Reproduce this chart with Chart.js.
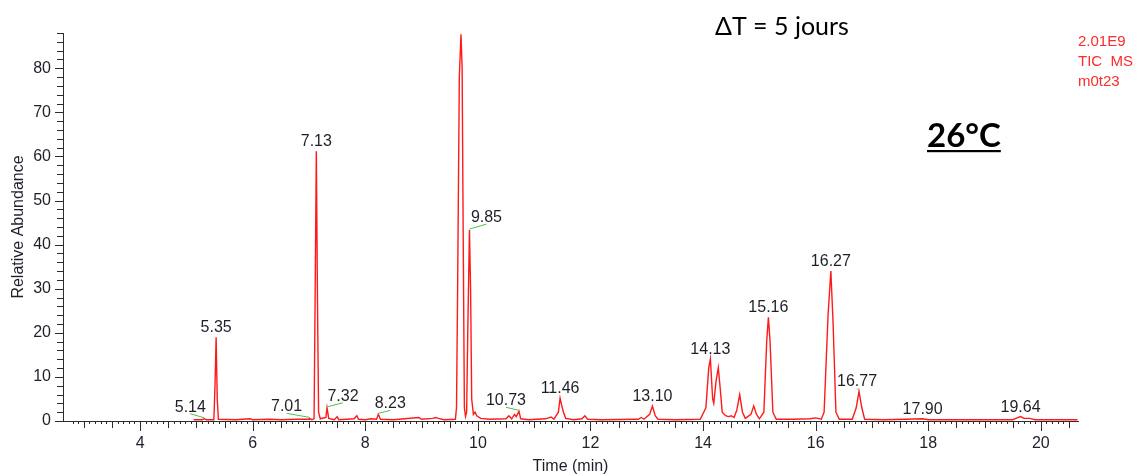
<!DOCTYPE html>
<html>
<head>
<meta charset="utf-8">
<script src="https://cdn.jsdelivr.net/npm/chart.js@4.4.1/dist/chart.umd.min.js"></script>
<style>
  html, body { margin: 0; padding: 0; background: #fff; }
  #wrap { position: relative; width: 1143px; height: 476px; }
  canvas { display: block; }
</style>
</head>
<body>
<div id="wrap"><canvas id="c" width="1143" height="476"></canvas></div>
<script>
// ---- Data (time in min, relative abundance %) ----
const times = [
  4.95, 5.10, 5.14, 5.18, 5.31, 5.33, 5.35, 5.37, 5.39, 5.70, 5.95, 6.00, 6.30, 6.50, 6.80, 7.00,
  7.01, 7.05, 7.09, 7.11, 7.13, 7.15, 7.17, 7.20, 7.30, 7.32, 7.35, 7.45, 7.50, 7.53, 7.80, 7.85,
  7.88, 8.00, 8.10, 8.20, 8.23, 8.27, 8.50, 8.70, 8.95, 9.00, 9.20, 9.25, 9.30, 9.40, 9.60, 9.62,
  9.64, 9.67, 9.70, 9.72, 9.74, 9.76, 9.78, 9.80, 9.82, 9.85, 9.87, 9.89, 9.92, 9.95, 9.98, 10.05,
  10.20, 10.50, 10.55, 10.60, 10.65, 10.68, 10.73, 10.76, 10.90, 11.20, 11.30, 11.35, 11.43, 11.46, 11.49, 11.52,
  11.56, 11.70, 11.85, 11.90, 11.95, 12.20, 12.85, 12.90, 12.95, 13.05, 13.10, 13.15, 13.20, 13.50, 13.95, 14.05,
  14.10, 14.13, 14.17, 14.19, 14.23, 14.27, 14.30, 14.34, 14.40, 14.45, 14.50, 14.55, 14.60, 14.65, 14.70, 14.75,
  14.85, 14.90, 14.95, 15.00, 15.08, 15.13, 15.16, 15.19, 15.24, 15.30, 15.60, 15.90, 16.00, 16.10, 16.15, 16.22,
  16.27, 16.31, 16.36, 16.42, 16.65, 16.72, 16.77, 16.82, 16.87, 17.20, 17.60, 17.90, 18.00, 18.60, 19.50, 19.60,
  19.64, 19.70, 19.80, 19.90, 20.65
];
const abundance = [
  0.3, 0.3, 0.5, 0.3, 0.3, 8, 19.0, 5, 0.4, 0.3, 0.5, 0.3, 0.4, 0.3, 0.4, 0.4,
  0.6, 0.3, 0.5, 30, 61.2, 28, 2, 0.5, 0.8, 3.0, 0.6, 0.3, 1.0, 0.3, 0.5, 1.2,
  0.4, 0.3, 0.5, 0.4, 1.5, 0.4, 0.3, 0.5, 0.8, 0.4, 0.6, 0.8, 0.6, 0.3, 0.4, 3,
  30, 78, 87.7, 80, 40, 3, 1.0, 2, 20, 43.3, 30, 5, 1.5, 2.0, 1.2, 0.6,
  0.4, 0.5, 1.2, 0.5, 1.5, 1.0, 2.2, 0.5, 0.3, 0.5, 0.9, 0.4, 2, 5.2, 3.5, 2.0,
  0.6, 0.3, 0.5, 1.2, 0.4, 0.3, 0.4, 0.8, 0.4, 1.5, 3.4, 1.2, 0.4, 0.3, 0.4, 3,
  12, 14.1, 5, 4, 9, 12.1, 8, 2, 1.2, 1.0, 1.2, 0.8, 2.5, 6.0, 2.0, 0.6,
  1.5, 3.4, 1.5, 0.5, 2, 18, 23.5, 18, 2, 0.4, 0.4, 0.5, 0.7, 0.4, 2, 24,
  34, 22, 2, 0.4, 0.4, 3, 6.7, 3, 0.4, 0.3, 0.4, 0.5, 0.3, 0.3, 0.3, 0.8,
  1.0, 0.6, 0.6, 0.3, 0.3
];

// Peak annotations (retention time labels)
const peakTimes  = [5.14, 5.35, 7.01, 7.13, 7.32, 8.23, 9.85, 10.73, 11.46, 13.10, 14.13, 15.16, 16.27, 16.77, 17.90, 19.64];
const peakValues = [0.5, 19.0, 0.6, 61.2, 3.0, 1.5, 43.3, 2.2, 5.2, 3.4, 14.1, 23.5, 34, 6.7, 0.5, 1.0];
const peakTexts  = ["5.14", "5.35", "7.01", "7.13", "7.32", "8.23", "9.85", "10.73", "11.46", "13.10", "14.13", "15.16", "16.27", "16.77", "17.90", "19.64"];
// which labels have a green leader line
const peakLeader = [true, false, true, false, true, true, true, true, false, false, false, false, false, true, false, false];

// Axis tick labels
const xTickLabels = [4, 6, 8, 10, 12, 14, 16, 18, 20];
const yTickLabels = [0, 10, 20, 30, 40, 50, 60, 70, 80];

// ---- Styling (kept apart from data) ----
const leaderOffsets = { // label pixel offsets relative to the peak top: [dx, dy]
  "5.14": [-14, -6], "7.01": [-23, -6], "7.32": [16, -6], "8.23": [12, -5],
  "9.85": [17, -7], "10.73": [-13, -5], "16.77": [-2, -4]
};
const AXIS_COLOR = '#2b2b2b';
const TEXT_COLOR = '#1f1f2a';
const FONT = 'Liberation Sans, Arial, sans-serif';

const points = times.map((t, i) => ({ x: t, y: abundance[i] }));

function near(v, step) {
  const r = v / step;
  return Math.abs(r - Math.round(r)) < 1e-6;
}

const tickPlugin = {
  id: 'customTicks',
  afterDraw(chart) {
    const ctx = chart.ctx;
    const xs = chart.scales.x, ys = chart.scales.y;
    ctx.save();
    ctx.strokeStyle = AXIS_COLOR;
    ctx.lineWidth = 1;
    ctx.beginPath();
    xs.ticks.forEach(t => {
      const v = t.value;
      if (!near(v, 0.1)) return;
      const px = Math.round(xs.getPixelForValue(v)) + 0.5;
      let len = 3;
      if (near(v, 2)) len = 10;
      else if (near(v, 0.5)) len = 7;
      ctx.moveTo(px, ys.bottom);
      ctx.lineTo(px, ys.bottom + len);
    });
    ys.ticks.forEach(t => {
      const v = t.value;
      if (!near(v, 2)) return;
      const py = Math.round(ys.getPixelForValue(v)) + 0.5;
      const len = near(v, 10) ? 8 : 6;
      ctx.moveTo(xs.left, py);
      ctx.lineTo(xs.left - len, py);
    });
    ctx.stroke();
    ctx.restore();
  }
};

const labelPlugin = {
  id: 'peakLabels',
  afterDatasetsDraw(chart) {
    const ctx = chart.ctx;
    const xs = chart.scales.x, ys = chart.scales.y;
    ctx.save();
    ctx.font = '16px ' + FONT;
    ctx.fillStyle = TEXT_COLOR;
    ctx.textAlign = 'center';
    ctx.textBaseline = 'alphabetic';
    peakTimes.forEach((t, i) => {
      const px = xs.getPixelForValue(t);
      const py = ys.getPixelForValue(peakValues[i]);
      const txt = peakTexts[i];
      if (peakLeader[i]) {
        const off = leaderOffsets[txt] || [0, -6];
        const lx = px + off[0], ly = py + off[1];
        ctx.fillText(txt, lx, ly - 1);
        ctx.strokeStyle = '#4fbf4f';
        ctx.lineWidth = 1;
        ctx.beginPath();
        ctx.moveTo(lx, ly + 1);
        ctx.lineTo(px, py - 1);
        ctx.stroke();
      } else {
        ctx.fillText(txt, px, py - 5);
      }
    });
    ctx.restore();
  }
};

const textPlugin = {
  id: 'freeText',
  afterDraw(chart) {
    const ctx = chart.ctx;
    ctx.save();
    ctx.fillStyle = '#000';
    ctx.font = '25px Lato, "Open Sans", sans-serif';
    ctx.textAlign = 'left';
    ctx.textBaseline = 'middle';
    ctx.fillText('\u0394T = 5 jours', 715, 27);
    ctx.font = 'bold 33px Lato, "Open Sans", sans-serif';
    ctx.textBaseline = 'alphabetic';
    const t = '26\u00b0C';
    ctx.fillText(t, 927, 147);
    const w = ctx.measureText(t).width;
    ctx.fillRect(927, 150, w, 2.2);
    ctx.fillStyle = '#ff2a2a';
    ctx.font = '15px ' + FONT;
    ctx.textBaseline = 'middle';
    ctx.fillText('2.01E9', 1078, 42);
    ctx.fillText('TIC  MS', 1078, 62);
    ctx.fillText('m0t23', 1078, 82);
    ctx.restore();
  }
};

new Chart(document.getElementById('c'), {
  type: 'scatter',
  data: {
    datasets: [{
      data: points,
      showLine: true,
      borderColor: '#ff1a1a',
      borderWidth: 1.4,
      pointRadius: 0,
      tension: 0,
      fill: false
    }]
  },
  options: {
    responsive: false,
    animation: false,
    events: [],
    layout: { padding: { top: 33, right: 65, left: 0, bottom: 0 } },
    plugins: { legend: { display: false }, tooltip: { enabled: false } },
    scales: {
      x: {
        type: 'linear',
        min: 2.63,
        max: 20.66,
        afterFit: s => { s.height = 55; },
        border: { display: true, color: AXIS_COLOR, width: 1 },
        grid: { display: false, drawTicks: false },
        ticks: {
          stepSize: 0.1,
          autoSkip: false,
          maxRotation: 0,
          padding: 13,
          color: TEXT_COLOR,
          font: { family: FONT, size: 16 },
          callback: v => {
            const m = xTickLabels.find(l => Math.abs(l - v) < 1e-6);
            return m !== undefined ? String(m) : '';
          }
        },
        title: {
          display: true, text: 'Time (min)', color: TEXT_COLOR,
          font: { family: FONT, size: 16 }, padding: { top: 0, bottom: 0 }
        }
      },
      y: {
        type: 'linear',
        min: 0,
        max: 88,
        afterFit: s => { s.width = 63; },
        border: { display: true, color: AXIS_COLOR, width: 1 },
        grid: { display: false, drawTicks: false },
        ticks: {
          stepSize: 2,
          autoSkip: false,
          padding: 12,
          color: TEXT_COLOR,
          font: { family: FONT, size: 16 },
          callback: v => {
            const m = yTickLabels.find(l => Math.abs(l - v) < 1e-6);
            return m !== undefined ? String(m) : '';
          }
        },
        title: {
          display: true, text: 'Relative Abundance', color: TEXT_COLOR,
          font: { family: FONT, size: 16 }, padding: { top: 9, bottom: 0 }
        }
      }
    }
  },
  plugins: [tickPlugin, labelPlugin, textPlugin]
});
</script>
</body>
</html>
